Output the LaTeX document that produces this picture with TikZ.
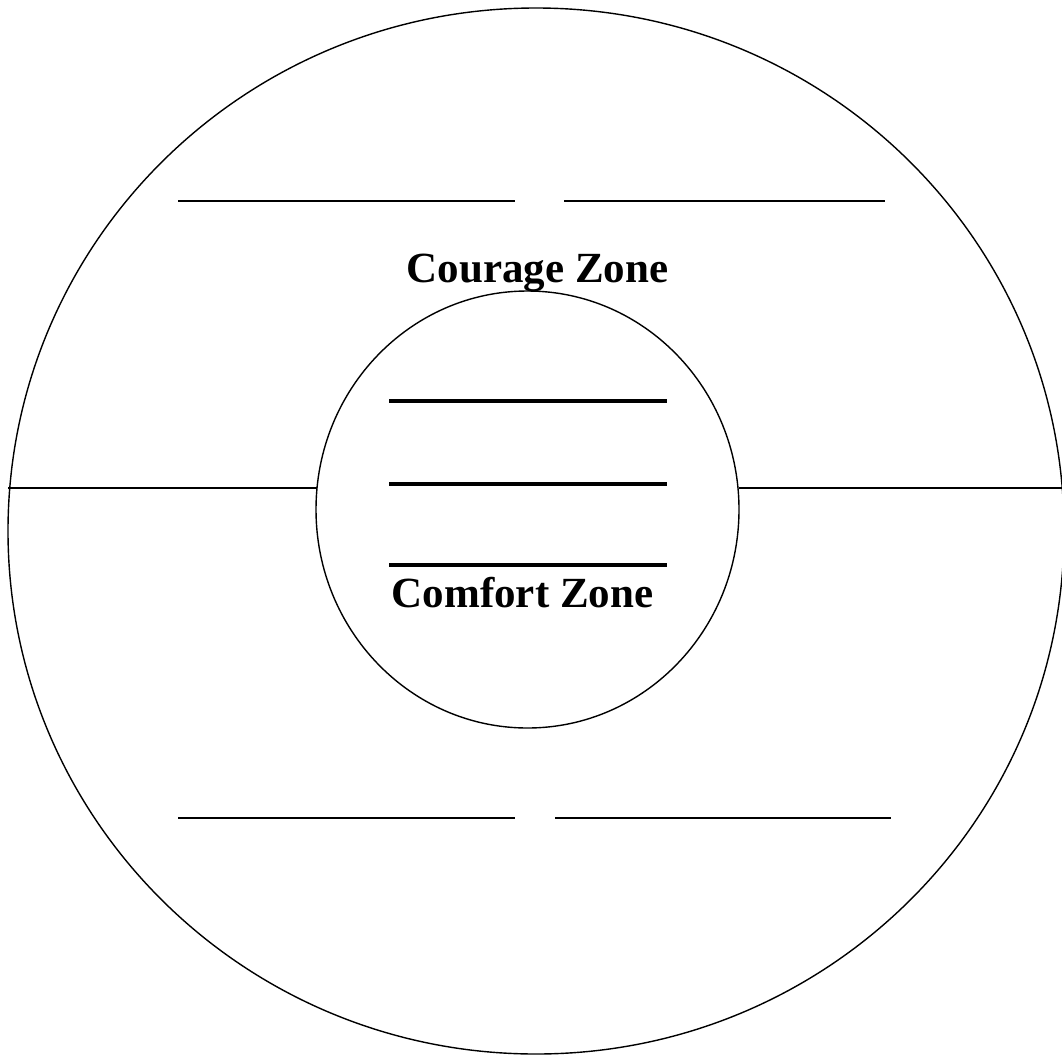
\documentclass[tikz,border=0pt]{standalone}
\usepackage{fontspec}
\setmainfont{Liberation Serif}
\tikzset{
	zonelabel/.style={font=\fontsize{43}{50}\selectfont\bfseries, inner sep=0pt},
	ring/.style={line width=1.4pt},
	blank/.style={line width=1.3pt},
	thickblank/.style={line width=3.6pt}
}
\begin{document}
\begin{tikzpicture}[x=1pt, y=-1pt]
	
	% Khung ảnh
	\useasboundingbox (0,0) rectangle (1062,1055);
	
	% Vòng ngoài và vòng trong
	\draw[ring] (536,531) ellipse [x radius=528pt, y radius=523pt];
	\draw[ring] (527.5,509.5) ellipse [x radius=211.5pt, y radius=218.5pt];
	
	% Đường ngang chia đôi vòng ngoài
	\coordinate (westend) at (8,488);
	\coordinate (westin) at (316.5,488);
	\coordinate (eastin) at (738.5,488);
	\coordinate (eastend) at (1062,488);
	\draw[ring] (westend) -- (westin);
	\draw[ring] (eastin) -- (eastend);
	
	% Các dòng trống ở trên và dưới
	\draw[blank] (178,201) -- (515,201);
	\draw[blank] (564,201) -- (885,201);
	\draw[blank] (178,818) -- (515,818);
	\draw[blank] (555,818) -- (891,818);
	
	% Các dòng đậm trong vòng trong
	\foreach \y in {401,484,565} {
		\draw[thickblank] (389,\y) -- (667,\y);
	}
	
	% Nhãn
	\node[zonelabel, anchor=base] (courage) at (537.5,282) {Courage Zone};
	\node[zonelabel, anchor=base] (comfort) at (522.5,607) {Comfort Zone};
	
\end{tikzpicture}
\end{document}
